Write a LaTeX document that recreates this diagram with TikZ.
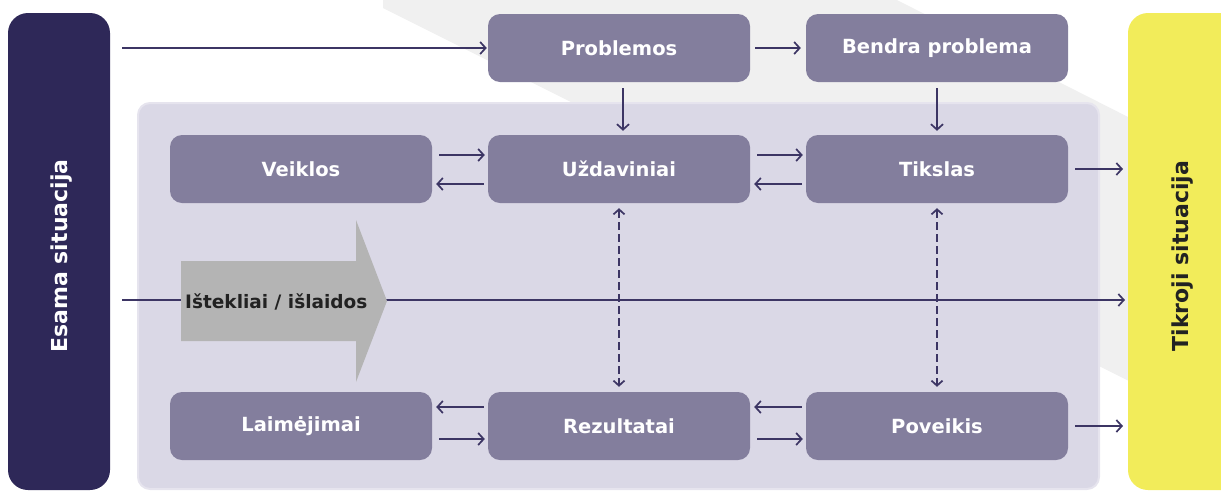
\documentclass[tikz,border=0pt]{standalone}
\usepackage{fontspec}
\setmainfont{DejaVu Sans}
\usetikzlibrary{arrows.meta}
\definecolor{darkbar}{RGB}{46,40,88}
\definecolor{boxfill}{RGB}{131,126,157}
\definecolor{panelfill}{RGB}{218,216,230}
\definecolor{paneledge}{RGB}{230,228,238}
\definecolor{arrcol}{RGB}{60,53,100}
\definecolor{yel}{RGB}{242,236,90}
\definecolor{band}{RGB}{240,240,240}
\definecolor{bigarr}{RGB}{180,180,180}
\definecolor{darktext}{RGB}{34,34,34}
\tikzset{
  x=1pt, y=-1pt,
  stepbox/.style={fill=boxfill, rounded corners=12pt, minimum width=262pt, minimum height=68pt, inner sep=0pt,
    text=white, font=\fontsize{19.5}{22}\selectfont\bfseries},
  arr/.style={draw=arrcol, line width=1.7pt, -{Straight Barb[length=5.5pt,width=12pt]}},
  dasharr/.style={draw=arrcol, line width=1.7pt, dash pattern=on 8pt off 4pt,
    {Straight Barb[length=5pt,width=11pt]}-{Straight Barb[length=5pt,width=11pt]}},
  sidelabel/.style={rotate=90, font=\fontsize{22}{24}\selectfont\bfseries, inner sep=0pt}
}
\begin{document}
\begin{tikzpicture}
\useasboundingbox (0,0) rectangle (1221,491);
\clip (0,0) rectangle (1221,491);
% background band
\fill[band] (383,-2) -- (383,8) -- (1221,427) -- (1221,164) -- (893,-2) -- cycle;
% side bars
\fill[darkbar, rounded corners=20pt] (8,13) rectangle (110,490);
\node[sidelabel, text=white] (esama) at (62,256) {Esama situacija};
\fill[yel, rounded corners=20pt] (1128,13) rectangle (1260,490);
\node[sidelabel, text=darktext] (tikroji) at (1183,256) {Tikroji situacija};
\coordinate (yelW) at (1128,300);
% panel
\filldraw[fill=panelfill, draw=paneledge, line width=2pt, rounded corners=12pt] (138,103) rectangle (1099,489);
% free ends
\coordinate (startTop) at (122,48);
\coordinate (startMid) at (122,300);
% middle line
\draw[arr] (startMid) -- ([xshift=-3pt]yelW);
% big arrow
\fill[bigarr] (181,261) -- (356,261) -- (356,220) -- (387,301) -- (356,382) -- (356,341) -- (181,341) -- cycle;
\node[anchor=west, inner sep=0pt, text=darktext, font=\fontsize{18.5}{20}\selectfont\bfseries] (ist) at (185,302) {Ištekliai / išlaidos};
% boxes
\node[stepbox] (prob) at (619,48) {Problemos};
\node[stepbox] (bendra) at (937,48) {Bendra problema};
\node[stepbox] (veik) at (301,169) {Veiklos};
\node[stepbox] (uzd) at (619,169) {Uždaviniai};
\node[stepbox] (tiks) at (937,169) {Tikslas};
\node[stepbox] (laim) at (301,426) {Laimėjimai};
\node[stepbox] (rez) at (619,426) {Rezultatai};
\node[stepbox] (pov) at (937,426) {Poveikis};
% arrows
\draw[arr, shorten >=1pt] (startTop) -- (prob.west);
\draw[arr, shorten <=5pt, shorten >=5pt] (prob.east) -- (bendra.west);
\draw[arr, shorten <=6pt, shorten >=4pt] ([xshift=4pt]prob.south) -- ([xshift=4pt]uzd.north);
\draw[arr, shorten <=6pt, shorten >=4pt] (bendra.south) -- (tiks.north);
\draw[arr, shorten <=7pt, shorten >=3pt] ([yshift=14pt]veik.east) -- ([yshift=14pt]uzd.west);
\draw[arr, shorten <=4pt, shorten >=4pt] ([yshift=-15pt]uzd.west) -- ([yshift=-15pt]veik.east);
\draw[arr, shorten <=7pt, shorten >=3pt] ([yshift=14pt]uzd.east) -- ([yshift=14pt]tiks.west);
\draw[arr, shorten <=4pt, shorten >=4pt] ([yshift=-15pt]tiks.west) -- ([yshift=-15pt]uzd.east);
\draw[arr, shorten <=7pt, shorten >=5pt] (tiks.east) -- (tiks.east -| yelW);
\draw[dasharr, shorten <=5pt, shorten >=5pt] (uzd.south) -- (rez.north);
\draw[dasharr, shorten <=5pt, shorten >=5pt] (tiks.south) -- (pov.north);
\draw[arr, shorten <=4pt, shorten >=4pt] ([yshift=19pt]rez.west) -- ([yshift=19pt]laim.east);
\draw[arr, shorten <=7pt, shorten >=3pt] ([yshift=-13pt]laim.east) -- ([yshift=-13pt]rez.west);
\draw[arr, shorten <=4pt, shorten >=4pt] ([yshift=19pt]pov.west) -- ([yshift=19pt]rez.east);
\draw[arr, shorten <=7pt, shorten >=3pt] ([yshift=-13pt]rez.east) -- ([yshift=-13pt]pov.west);
\draw[arr, shorten <=7pt, shorten >=5pt] (pov.east) -- (pov.east -| yelW);
\end{tikzpicture}
\end{document}
